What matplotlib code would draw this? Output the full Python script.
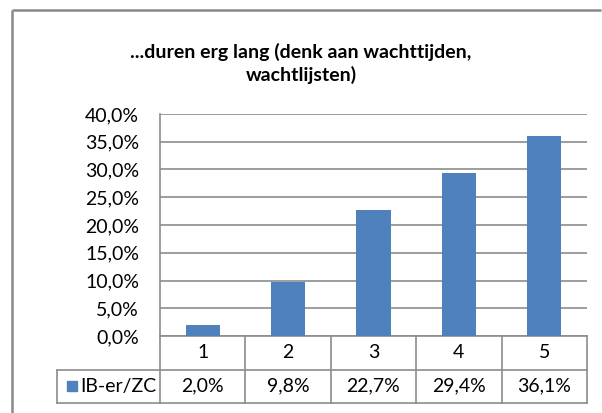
import matplotlib.pyplot as plt
from matplotlib.patches import Rectangle
from matplotlib.lines import Line2D

categories = ['1', '2', '3', '4', '5']
values = [2.0, 9.8, 22.7, 29.4, 36.1]
series_name = 'IB-er/ZC'
yticks = [0, 5, 10, 15, 20, 25, 30, 35, 40]

plt.rcParams['font.family'] = ['Lato', 'DejaVu Sans']
FS = 14

W, H = 602, 413
fig = plt.figure(figsize=(W / 100, H / 100), dpi=100)

# chart border (runs off the right and bottom edges)
border = '#898989'
top_y = 1 - 9.5 / H
left_x = 11.5 / W
fig.add_artist(Line2D([left_x, 0.999], [top_y, top_y], transform=fig.transFigure,
                      color=border, linewidth=1.8, solid_capstyle='butt'))
fig.add_artist(Line2D([left_x, left_x], [0.001, top_y], transform=fig.transFigure,
                      color=border, linewidth=1.8, solid_capstyle='butt'))

ax = fig.add_axes([160 / W, (H - 336) / H, 427 / W, 222 / H])
x = list(range(len(categories)))
ax.bar(x, values, width=0.4, color='#4F81BD', zorder=3)
ax.set_xlim(-0.5, len(categories) - 0.5)
ax.set_ylim(0, 40)
ax.set_yticks(yticks)
ax.set_yticklabels([f'{v:.1f}'.replace('.', ',') + '%' for v in yticks], fontsize=FS)
ax.tick_params(axis='y', length=0, pad=15)
ax.set_xticks([])
ax.grid(axis='y', color='#8c8c8c', linewidth=1.2, zorder=0)
for side in ['top', 'right', 'bottom']:
    ax.spines[side].set_visible(False)
ax.spines['left'].set_color('#8c8c8c')
ax.spines['left'].set_linewidth(1.2)

fig.text(0.5, 1 - 52 / H, '...duren erg lang (denk aan wachttijden,', ha='center', va='center',
         fontsize=FS, fontweight='bold')
fig.text(0.5, 1 - 75 / H, 'wachtlijsten)', ha='center', va='center',
         fontsize=FS, fontweight='bold')

# data table below the plot
row_h = 33.5 / 222
left_cell = (57 - 160) / 427
n = len(categories)
lc = '#8c8c8c'
tr = ax.transAxes


def hline(x0, x1, y):
    ax.add_line(Line2D([x0, x1], [y, y], transform=tr, color=lc, linewidth=1.2, clip_on=False))


def vline(xx, y0, y1):
    ax.add_line(Line2D([xx, xx], [y0, y1], transform=tr, color=lc, linewidth=1.2, clip_on=False))


hline(0, 1, 0)
hline(left_cell, 1, -row_h)
hline(left_cell, 1, -2 * row_h)
vline(left_cell, -row_h, -2 * row_h)
for i in range(n + 1):
    vline(i / n, 0, -2 * row_h)

for i, (cat, v) in enumerate(zip(categories, values)):
    cx = (i + 0.5) / n
    ax.text(cx, -0.5 * row_h, cat, transform=tr, ha='center', va='center', fontsize=FS)
    ax.text(cx, -1.5 * row_h, f'{v:.1f}'.replace('.', ',') + '%', transform=tr,
            ha='center', va='center', fontsize=FS)

ax.add_patch(Rectangle((left_cell + 10 / 427, -1.5 * row_h - 5 / 222), 10 / 427, 10 / 222,
                       transform=tr, color='#4F81BD', clip_on=False))
ax.text(left_cell + 23 / 427, -1.5 * row_h, series_name, transform=tr, ha='left', va='center',
        fontsize=FS)

fig.savefig('out.png', dpi=100)
